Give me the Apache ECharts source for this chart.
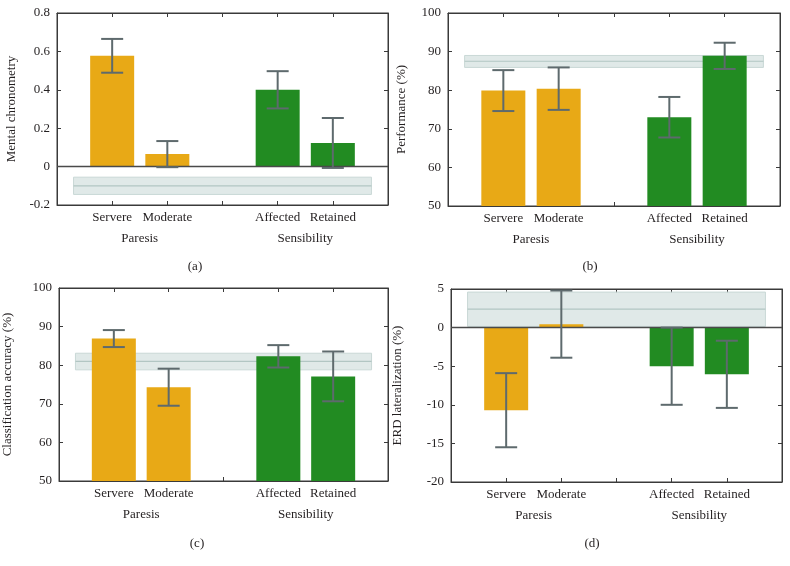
<!DOCTYPE html>
<html><head><meta charset="utf-8">
<script src="https://cdn.jsdelivr.net/npm/echarts@6/dist/echarts.min.js"></script>
<style>html,body{margin:0;padding:0;background:#fff}#c{width:790px;height:566px}</style>
</head><body><div id="c"></div>
<script>
// Category slots on the x axis (0..6); bars sit at 1,2,4,5
const slotLabels = ['', 'Servere', 'Moderate', '', 'Affected', 'Retained', ''];
const barPositions = [1, 2, 4, 5];
const groupLabels = {1.5: 'Paresis', 4.5: 'Sensibility'};
const panelLetters = ['(a)', '(b)', '(c)', '(d)'];
const yNames = ['Mental chronometry', 'Performance (%)', 'Classification accuracy (%)', 'ERD lateralization (%)'];

// Means and error (half-length) per panel: Servere, Moderate, Affected, Retained
const mentalMean = [0.577, 0.065, 0.400, 0.123];
const mentalErr  = [0.088, 0.068, 0.097, 0.130];
const perfMean   = [79.9, 80.4, 73.0, 88.9];
const perfErr    = [5.3, 5.5, 5.25, 3.4];
const accMean    = [86.9, 74.3, 82.3, 77.1];
const accErr     = [2.2, 4.8, 2.9, 6.45];
const erdMean    = [-10.7, 0.45, -5.0, -6.05];
const erdErr     = [4.8, 4.35, 5.0, 4.35];

// Reference band per panel: [xStart, xEnd, low, mid, high]
const mentalBand = [0.3, 5.7, -0.145, -0.1, -0.055];
const perfBand   = [0.3, 5.7, 85.9, 87.5, 89.0];
const accBand    = [0.3, 5.7, 78.8, 81.0, 83.1];
const erdBand    = [0.3, 5.7, 0.15, 2.4, 4.6];

// Y axis ranges: [min, max, interval]
const mentalRange = [-0.2, 0.8, 0.2];
const perfRange   = [50, 100, 10];
const accRange    = [50, 100, 10];
const erdRange    = [-20, 5, 5];

const panels = [
  {mean: mentalMean, err: mentalErr, band: mentalBand, range: mentalRange, zero: true},
  {mean: perfMean, err: perfErr, band: perfBand, range: perfRange, zero: false},
  {mean: accMean, err: accErr, band: accBand, range: accRange, zero: false},
  {mean: erdMean, err: erdErr, band: erdBand, range: erdRange, zero: true}
];

const ORANGE = '#E8A916', GREEN = '#228B22', ERR = '#5E6A6D';
const FONT = 'Liberation Serif';
const TXT = '#231F20';
const grids = [
  {left: 57, top: 13, width: 331, height: 192, nameGap: 39, letter: [195, 267]},
  {left: 448, top: 13, width: 332, height: 193, nameGap: 40, letter: [590, 267]},
  {left: 59, top: 288, width: 329, height: 193, nameGap: 45, letter: [197, 544]},
  {left: 451, top: 289, width: 331, height: 193, nameGap: 47, letter: [592, 544]}
];

const option = {
  animation: false,
  backgroundColor: '#fff',
  textStyle: {fontFamily: FONT},
  grid: [], xAxis: [], yAxis: [], series: [], graphic: []
};

const lineStyle = {color: '#3a3a3a', width: 1};

panels.forEach((p, i) => {
  const g = grids[i];
  option.grid.push({left: g.left, top: g.top, width: g.width, height: g.height,
    show: true, borderColor: '#3a3a3a', borderWidth: 1, containLabel: false});
  const xi = option.xAxis.length;
  // bottom axis with category names
  option.xAxis.push({type: 'value', gridIndex: i, min: 0, max: 6, interval: 1, position: 'bottom',
    axisLine: {show: true, onZero: false, lineStyle},
    axisTick: {show: true, inside: true, length: 4, lineStyle},
    splitLine: {show: false},
    axisLabel: {show: true, margin: 6, fontSize: 13, color: TXT, fontFamily: FONT,
      formatter: v => slotLabels[Math.round(v)] || ''}});
  // top mirror axis
  option.xAxis.push({type: 'value', gridIndex: i, min: 0, max: 6, interval: 1, position: 'top',
    axisLine: {show: true, onZero: false, lineStyle},
    axisTick: {show: true, inside: true, length: 4, lineStyle},
    splitLine: {show: false}, axisLabel: {show: false}});
  // group label axis
  option.xAxis.push({type: 'value', gridIndex: i, min: 0, max: 6, interval: 1.5, position: 'bottom', offset: 21,
    axisLine: {show: false}, axisTick: {show: false}, splitLine: {show: false},
    axisLabel: {show: true, margin: 6, fontSize: 13, color: TXT, fontFamily: FONT,
      showMinLabel: true, showMaxLabel: true,
      formatter: v => groupLabels[v] || ''}});
  const yi = option.yAxis.length;
  option.yAxis.push({type: 'value', gridIndex: i, min: p.range[0], max: p.range[1], interval: p.range[2],
    position: 'left', name: yNames[i], nameLocation: 'middle', nameGap: g.nameGap,
    nameTextStyle: {fontSize: 13, color: TXT, fontFamily: FONT},
    axisLine: {show: true, onZero: false, lineStyle},
    axisTick: {show: true, inside: true, length: 4, lineStyle},
    splitLine: {show: false},
    axisLabel: {margin: 7, fontSize: 13, color: TXT, fontFamily: FONT}});
  option.yAxis.push({type: 'value', gridIndex: i, min: p.range[0], max: p.range[1], interval: p.range[2],
    position: 'right',
    axisLine: {show: true, onZero: false, lineStyle},
    axisTick: {show: true, inside: true, length: 4, lineStyle},
    splitLine: {show: false}, axisLabel: {show: false}});

  // reference band
  option.series.push({type: 'custom', xAxisIndex: xi, yAxisIndex: yi, z: 1, silent: true,
    data: [p.band],
    renderItem: (params, api) => {
      const x0 = api.value(0), x1 = api.value(1);
      const pLo = api.coord([x0, api.value(2)]);
      const pHi = api.coord([x1, api.value(4)]);
      const pMidA = api.coord([x0, api.value(3)]);
      const pMidB = api.coord([x1, api.value(3)]);
      return {type: 'group', children: [
        {type: 'rect', shape: {x: pLo[0], y: pHi[1], width: pHi[0] - pLo[0], height: pLo[1] - pHi[1]},
          style: {fill: 'rgba(214,226,224,0.75)', stroke: '#c9d8d6', lineWidth: 1}},
        {type: 'line', shape: {x1: pMidA[0], y1: pMidA[1], x2: pMidB[0], y2: pMidB[1]},
          style: {stroke: '#b2c6c3', lineWidth: 1.2}}
      ]};
    }});

  // bars
  const barData = p.mean.map((m, k) => ({value: [barPositions[k], m],
    itemStyle: {color: k < 2 ? ORANGE : GREEN}}));
  const bar = {type: 'bar', xAxisIndex: xi, yAxisIndex: yi, z: 2, barWidth: 44, data: barData, silent: true};
  if (p.zero) {
    bar.markLine = {silent: true, symbol: 'none', label: {show: false}, z: 3,
      lineStyle: {color: '#4a4a4a', width: 1.3, type: 'solid'}, data: [{yAxis: 0}]};
  }
  option.series.push(bar);

  // error bars
  option.series.push({type: 'custom', xAxisIndex: xi, yAxisIndex: yi, z: 4, silent: true,
    data: p.mean.map((m, k) => [barPositions[k], m, p.err[k]]),
    renderItem: (params, api) => {
      const x = api.value(0), m = api.value(1), e = api.value(2);
      const top = api.coord([x, m + e]);
      const bot = api.coord([x, m - e]);
      const hw = 11;
      const st = {stroke: ERR, lineWidth: 2};
      return {type: 'group', children: [
        {type: 'line', shape: {x1: top[0], y1: top[1], x2: bot[0], y2: bot[1]}, style: st},
        {type: 'line', shape: {x1: top[0] - hw, y1: top[1], x2: top[0] + hw, y2: top[1]}, style: st},
        {type: 'line', shape: {x1: bot[0] - hw, y1: bot[1], x2: bot[0] + hw, y2: bot[1]}, style: st}
      ]};
    }});

  option.graphic.push({type: 'text', x: g.letter[0], y: g.letter[1],
    style: {text: panelLetters[i], fill: TXT, font: '13px "' + FONT + '"', textAlign: 'center', textVerticalAlign: 'middle'}});
});

const chart = echarts.init(document.getElementById('c'), null, {renderer: 'canvas'});
chart.setOption(option);
</script></body></html>
